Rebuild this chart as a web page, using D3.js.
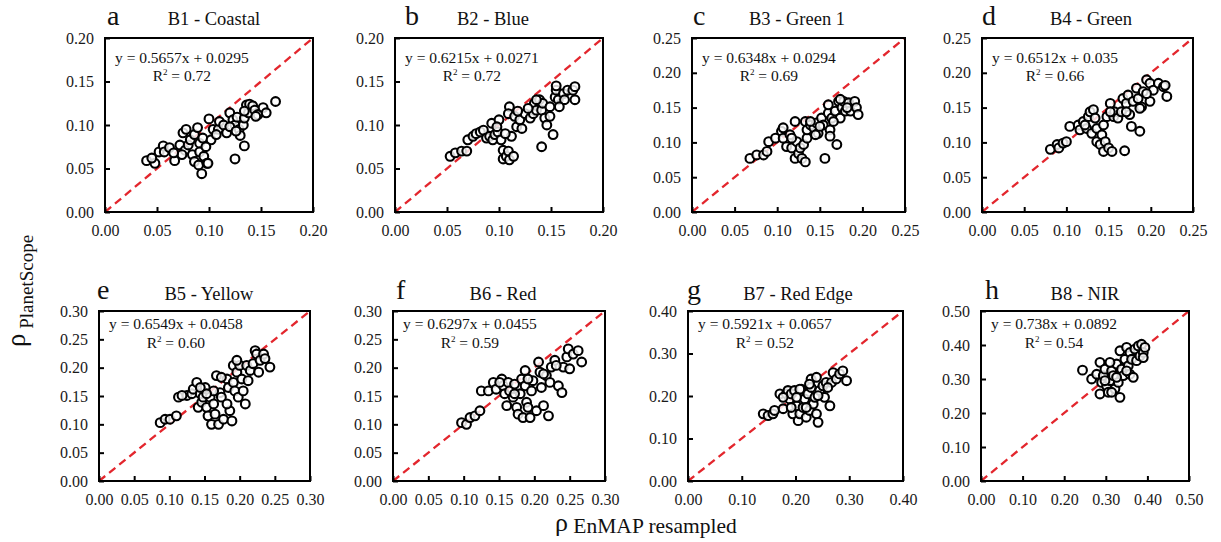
<!DOCTYPE html>
<html><head><meta charset="utf-8">
<script src="https://cdn.jsdelivr.net/npm/d3@7"></script>
<style>
body{margin:0;background:#fff;}
svg{display:block;font-family:'Liberation Serif','Times New Roman',serif;}
svg text{font-family:'Liberation Serif','Times New Roman',serif;}
</style>
</head><body>
<svg id="chart" width="1221" height="542"></svg>
<script>
// ---------- data ----------
const bandTitles = ["B1 - Coastal","B2 - Blue","B3 - Green 1","B4 - Green","B5 - Yellow","B6 - Red","B7 - Red Edge","B8 - NIR"];
const panelLetters = ["a","b","c","d","e","f","g","h"];
const slopes = ["0.5657","0.6215","0.6348","0.6512","0.6549","0.6297","0.5921","0.738"];
const intercepts = ["0.0295","0.0271","0.0294","0.035","0.0458","0.0455","0.0657","0.0892"];
const r2Values = ["0.72","0.72","0.69","0.66","0.60","0.59","0.52","0.54"];
const axisMax = [0.20,0.20,0.25,0.25,0.30,0.30,0.40,0.50];
const tickStep = [0.05,0.05,0.05,0.05,0.05,0.05,0.10,0.10];
const xAxisTitle = "EnMAP resampled";
const yAxisTitle = "PlanetScope";

const pointsB1 = [[0.040,0.059],[0.048,0.056],[0.052,0.069],[0.056,0.076],[0.057,0.069],[0.062,0.074],[0.067,0.059],[0.072,0.077],[0.075,0.091],[0.077,0.071],[0.080,0.077],[0.082,0.083],[0.084,0.066],[0.086,0.089],[0.089,0.097],[0.091,0.079],[0.091,0.069],[0.086,0.058],[0.090,0.054],[0.093,0.044],[0.095,0.064],[0.098,0.056],[0.099,0.056],[0.094,0.085],[0.100,0.107],[0.102,0.083],[0.104,0.095],[0.109,0.095],[0.110,0.104],[0.114,0.100],[0.117,0.091],[0.120,0.114],[0.123,0.106],[0.125,0.100],[0.125,0.061],[0.127,0.109],[0.129,0.095],[0.130,0.088],[0.133,0.100],[0.134,0.108],[0.134,0.076],[0.136,0.123],[0.138,0.114],[0.139,0.124],[0.142,0.122],[0.144,0.117],[0.147,0.112],[0.152,0.120],[0.155,0.114],[0.164,0.127],[0.120,0.098],[0.078,0.095],[0.074,0.066],[0.066,0.068],[0.097,0.075],[0.107,0.089],[0.145,0.110],[0.134,0.116],[0.126,0.093],[0.045,0.062]];
const pointsB2 = [[0.053,0.064],[0.058,0.068],[0.064,0.070],[0.069,0.070],[0.070,0.083],[0.075,0.087],[0.078,0.090],[0.082,0.092],[0.085,0.094],[0.088,0.085],[0.091,0.087],[0.093,0.102],[0.094,0.083],[0.096,0.089],[0.099,0.092],[0.100,0.106],[0.102,0.083],[0.104,0.071],[0.104,0.061],[0.107,0.064],[0.109,0.070],[0.110,0.060],[0.114,0.064],[0.112,0.087],[0.110,0.121],[0.109,0.113],[0.115,0.110],[0.117,0.098],[0.120,0.106],[0.122,0.096],[0.125,0.113],[0.130,0.108],[0.133,0.113],[0.134,0.125],[0.136,0.117],[0.139,0.129],[0.141,0.117],[0.141,0.075],[0.142,0.125],[0.144,0.108],[0.146,0.100],[0.149,0.121],[0.152,0.089],[0.154,0.132],[0.155,0.140],[0.157,0.129],[0.162,0.136],[0.163,0.129],[0.166,0.140],[0.171,0.140],[0.173,0.144],[0.173,0.129],[0.158,0.121],[0.149,0.110],[0.128,0.119],[0.106,0.090],[0.098,0.098],[0.118,0.116],[0.155,0.145],[0.136,0.129]];
const pointsB3 = [[0.068,0.077],[0.076,0.082],[0.084,0.082],[0.088,0.087],[0.090,0.101],[0.098,0.106],[0.105,0.116],[0.107,0.106],[0.111,0.094],[0.115,0.111],[0.117,0.092],[0.121,0.130],[0.121,0.077],[0.123,0.101],[0.125,0.084],[0.127,0.092],[0.129,0.077],[0.133,0.072],[0.133,0.130],[0.131,0.097],[0.135,0.106],[0.135,0.118],[0.139,0.125],[0.143,0.121],[0.146,0.128],[0.148,0.113],[0.152,0.135],[0.154,0.125],[0.156,0.077],[0.160,0.142],[0.162,0.118],[0.162,0.109],[0.164,0.135],[0.168,0.145],[0.170,0.097],[0.172,0.159],[0.174,0.135],[0.176,0.150],[0.178,0.159],[0.180,0.145],[0.184,0.157],[0.186,0.145],[0.191,0.159],[0.193,0.150],[0.195,0.140],[0.160,0.154],[0.166,0.130],[0.145,0.111],[0.107,0.121],[0.139,0.130],[0.117,0.106],[0.150,0.123],[0.182,0.150],[0.174,0.162]];
const pointsB4 = [[0.081,0.090],[0.089,0.097],[0.091,0.092],[0.096,0.099],[0.100,0.101],[0.104,0.123],[0.114,0.125],[0.116,0.118],[0.120,0.130],[0.124,0.120],[0.126,0.137],[0.128,0.144],[0.130,0.113],[0.132,0.147],[0.134,0.135],[0.136,0.101],[0.136,0.120],[0.140,0.097],[0.142,0.111],[0.144,0.087],[0.144,0.125],[0.146,0.101],[0.148,0.137],[0.150,0.092],[0.152,0.156],[0.154,0.087],[0.156,0.137],[0.157,0.144],[0.161,0.135],[0.165,0.144],[0.167,0.163],[0.169,0.088],[0.171,0.156],[0.173,0.168],[0.175,0.140],[0.177,0.123],[0.179,0.159],[0.183,0.178],[0.185,0.163],[0.187,0.116],[0.189,0.151],[0.191,0.173],[0.195,0.190],[0.199,0.185],[0.199,0.159],[0.203,0.175],[0.209,0.185],[0.215,0.180],[0.219,0.166],[0.217,0.182],[0.195,0.170],[0.152,0.144],[0.171,0.144],[0.187,0.149],[0.122,0.125]];
const pointsB5 = [[0.087,0.103],[0.094,0.109],[0.101,0.109],[0.110,0.115],[0.113,0.148],[0.125,0.151],[0.132,0.154],[0.134,0.162],[0.139,0.174],[0.141,0.130],[0.144,0.154],[0.146,0.139],[0.148,0.148],[0.151,0.165],[0.153,0.130],[0.155,0.115],[0.158,0.148],[0.160,0.100],[0.163,0.136],[0.165,0.118],[0.167,0.186],[0.170,0.100],[0.172,0.156],[0.174,0.148],[0.177,0.109],[0.182,0.180],[0.184,0.165],[0.186,0.124],[0.189,0.106],[0.191,0.204],[0.191,0.174],[0.193,0.159],[0.196,0.192],[0.198,0.148],[0.200,0.204],[0.203,0.180],[0.205,0.159],[0.208,0.136],[0.210,0.204],[0.212,0.177],[0.215,0.195],[0.219,0.207],[0.222,0.230],[0.224,0.224],[0.227,0.192],[0.229,0.213],[0.234,0.224],[0.236,0.216],[0.243,0.201],[0.144,0.165],[0.163,0.159],[0.182,0.136],[0.118,0.151],[0.174,0.183],[0.196,0.213],[0.153,0.154]];
const pointsB6 = [[0.097,0.103],[0.104,0.100],[0.109,0.112],[0.116,0.115],[0.123,0.124],[0.125,0.159],[0.135,0.159],[0.142,0.174],[0.146,0.162],[0.154,0.180],[0.156,0.168],[0.158,0.154],[0.161,0.133],[0.163,0.174],[0.165,0.159],[0.170,0.148],[0.172,0.171],[0.175,0.130],[0.177,0.118],[0.180,0.154],[0.182,0.180],[0.184,0.112],[0.187,0.168],[0.187,0.195],[0.189,0.139],[0.191,0.130],[0.194,0.112],[0.196,0.159],[0.198,0.177],[0.203,0.124],[0.206,0.210],[0.208,0.192],[0.210,0.165],[0.213,0.133],[0.217,0.186],[0.220,0.115],[0.222,0.174],[0.224,0.201],[0.229,0.213],[0.234,0.168],[0.239,0.156],[0.241,0.201],[0.246,0.219],[0.248,0.233],[0.250,0.198],[0.255,0.224],[0.262,0.230],[0.267,0.210],[0.213,0.189],[0.172,0.154],[0.191,0.180],[0.151,0.174],[0.231,0.204]];
const pointsB7 = [[0.140,0.158],[0.149,0.154],[0.158,0.158],[0.161,0.166],[0.171,0.205],[0.177,0.170],[0.183,0.205],[0.186,0.213],[0.189,0.193],[0.192,0.205],[0.195,0.158],[0.198,0.213],[0.202,0.177],[0.205,0.142],[0.208,0.158],[0.211,0.216],[0.214,0.173],[0.217,0.193],[0.220,0.150],[0.223,0.205],[0.226,0.166],[0.229,0.240],[0.229,0.220],[0.233,0.181],[0.236,0.197],[0.239,0.244],[0.239,0.158],[0.242,0.138],[0.245,0.213],[0.251,0.224],[0.254,0.197],[0.257,0.232],[0.264,0.177],[0.267,0.232],[0.270,0.255],[0.276,0.240],[0.282,0.252],[0.288,0.259],[0.295,0.236],[0.208,0.216],[0.202,0.197],[0.177,0.197],[0.226,0.228],[0.242,0.201],[0.192,0.173],[0.220,0.173],[0.260,0.220]];
const pointsB8 = [[0.244,0.326],[0.266,0.300],[0.278,0.314],[0.286,0.349],[0.286,0.256],[0.290,0.290],[0.294,0.310],[0.298,0.329],[0.302,0.280],[0.306,0.261],[0.310,0.295],[0.314,0.324],[0.318,0.310],[0.322,0.271],[0.326,0.344],[0.330,0.290],[0.334,0.246],[0.334,0.383],[0.338,0.329],[0.342,0.310],[0.346,0.358],[0.350,0.393],[0.354,0.339],[0.358,0.378],[0.358,0.314],[0.362,0.358],[0.366,0.305],[0.370,0.388],[0.374,0.354],[0.378,0.397],[0.382,0.368],[0.386,0.402],[0.390,0.378],[0.394,0.393],[0.314,0.261],[0.326,0.305],[0.350,0.324],[0.310,0.349],[0.298,0.295],[0.390,0.363]];
const allPoints = [pointsB1,pointsB2,pointsB3,pointsB4,pointsB5,pointsB6,pointsB7,pointsB8];

// ---------- layout ----------
const boxes = [
  {l:105,r:313,t:38,b:212,lx:107,tx:214},
  {l:395,r:603,t:38,b:212,lx:405,tx:493},
  {l:692,r:905,t:38,b:212,lx:693,tx:797},
  {l:982,r:1193,t:38,b:212,lx:982,tx:1091},
  {l:99,r:310,t:311,b:481,lx:97,tx:209},
  {l:393,r:605,t:311,b:481,lx:396,tx:503},
  {l:688,r:903,t:311,b:481,lx:687,tx:798},
  {l:981,r:1189,t:311,b:481,lx:985,tx:1085}
];
const rowText = [
  {letter:25,title:25,eq:63,r2:81},
  {letter:299,title:300,eq:329,r2:348}
];
const FONT = "'Liberation Serif','Times New Roman',serif";

const svg = d3.select("#chart");
const fmt = d3.format(".2f");

boxes.forEach((bx,i)=>{
  const row = i<4 ? rowText[0] : rowText[1];
  const max = axisMax[i];
  const x = d3.scaleLinear().domain([0,max]).range([bx.l,bx.r]);
  const y = d3.scaleLinear().domain([0,max]).range([bx.b,bx.t]);
  const ticks = d3.range(0, max + tickStep[i]/2, tickStep[i]);
  const g = svg.append("g");

  // 1:1 line
  g.append("line")
    .attr("x1",x(0)).attr("y1",y(0)).attr("x2",x(max)).attr("y2",y(max))
    .attr("stroke","#e3262d").attr("stroke-width",2.3).attr("stroke-dasharray","8,5");

  // points
  g.append("g").selectAll("circle").data(allPoints[i]).join("circle")
    .attr("cx",d=>x(d[0])).attr("cy",d=>y(d[1])).attr("r",4.4)
    .attr("fill","#fff").attr("fill-opacity",0.82)
    .attr("stroke","#000").attr("stroke-width",2.1);

  // axes
  const xa = g.append("g").attr("transform",`translate(0,${bx.b})`)
    .call(d3.axisBottom(x).tickValues(ticks).tickFormat(fmt).tickSizeInner(-5).tickSizeOuter(0).tickPadding(12.5));
  const ya = g.append("g").attr("transform",`translate(${bx.l},0)`)
    .call(d3.axisLeft(y).tickValues(ticks).tickFormat(fmt).tickSizeInner(-5).tickSizeOuter(0).tickPadding(11));
  [xa,ya].forEach(a=>{
    a.attr("font-family",FONT);
    a.select(".domain").remove();
    a.selectAll("line").attr("stroke","#000").attr("stroke-width",2);
    a.selectAll("text").attr("font-family",FONT).attr("font-size",16).attr("fill","#1a1a1a");
  });

  // frame
  g.append("rect").attr("x",bx.l).attr("y",bx.t).attr("width",bx.r-bx.l).attr("height",bx.b-bx.t)
    .attr("fill","none").attr("stroke","#000").attr("stroke-width",2);

  // equation
  const eq = g.append("text").attr("x",bx.l+10).attr("y",row.eq)
    .attr("font-size",15.5).attr("fill","#111")
    .text(`y = ${slopes[i]}x + ${intercepts[i]}`);
  const w = eq.node().getComputedTextLength();
  const r2 = g.append("text").attr("x",bx.l+10+w/2).attr("y",row.r2)
    .attr("font-size",15.5).attr("fill","#111").attr("text-anchor","middle");
  r2.append("tspan").text("R");
  r2.append("tspan").attr("font-size",9).attr("dy",-6).text("2");
  r2.append("tspan").attr("dy",6).text(` = ${r2Values[i]}`);

  // letter & title
  g.append("text").attr("x",bx.lx).attr("y",row.letter).attr("font-size",28)
    .attr("fill","#111").text(panelLetters[i]);
  g.append("text").attr("x",bx.tx).attr("y",row.title).attr("font-size",18.5)
    .attr("text-anchor","middle").attr("fill","#111").text(bandTitles[i]);
});

// axis titles
const yt = svg.append("text").attr("transform","translate(25,347) rotate(-90)").attr("fill","#111");
yt.append("tspan").attr("font-size",27).text("ρ");
yt.append("tspan").attr("font-size",19).attr("dy",8).text(" " + yAxisTitle);

const xt = svg.append("text").attr("x",555).attr("y",531).attr("fill","#111");
xt.append("tspan").attr("font-size",26).text("ρ");
xt.append("tspan").attr("font-size",21.5).attr("dy",2).text(" " + xAxisTitle);
</script>
</body></html>
